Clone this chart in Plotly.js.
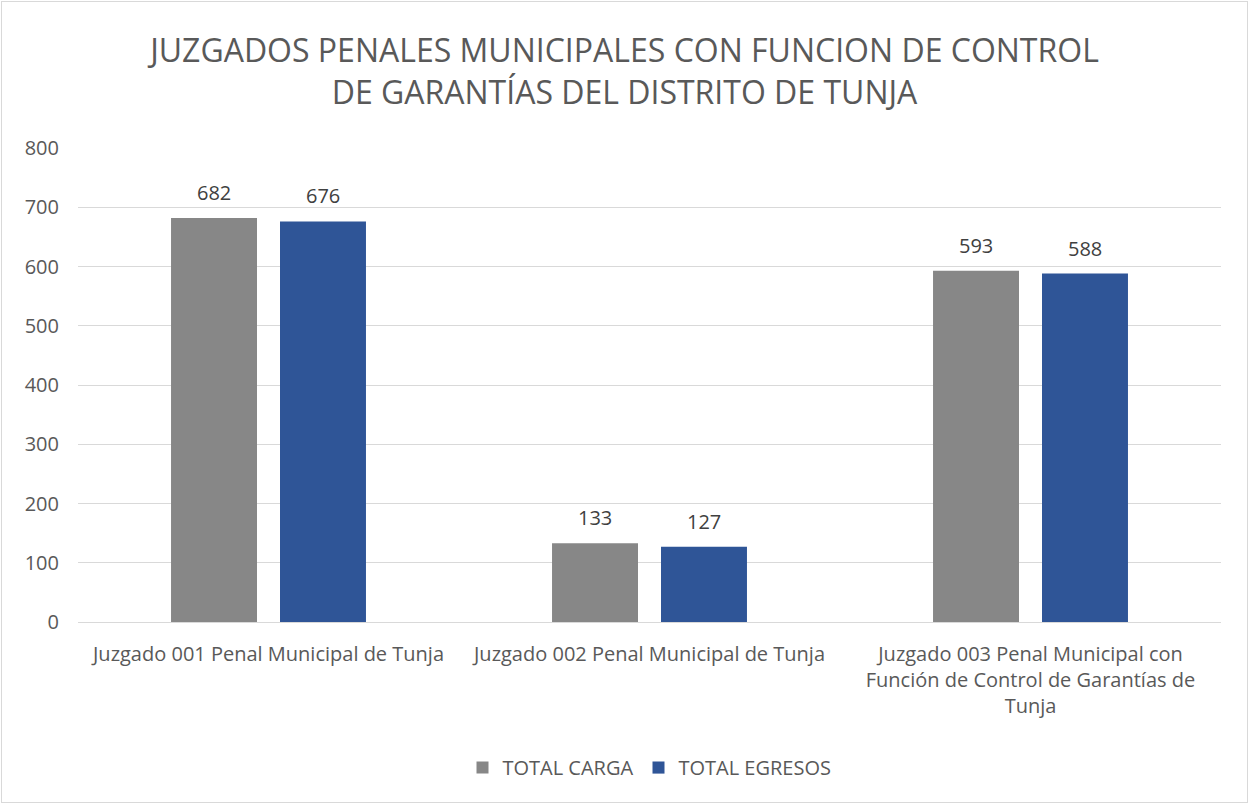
<!DOCTYPE html>
<html><head><meta charset="utf-8">
<script src="https://cdn.plot.ly/plotly-3.0.1.min.js"></script>
<style>
html,body{margin:0;padding:0;background:#fff;}
#chart{width:1245px;height:800px;border:1px solid #d9d9d9;margin:1px;}
</style></head>
<body><div id="chart"></div>
<script>
const categories = [
  "Juzgado 001 Penal Municipal de Tunja",
  "Juzgado 002 Penal Municipal de Tunja",
  "Juzgado 003 Penal Municipal con<br>Función de Control de Garantías de<br>Tunja"
];
const totalCarga = [682, 133, 593];
const totalEgresos = [676, 127, 588];
const seriesNames = ["TOTAL CARGA", "TOTAL EGRESOS"];

const font = "Open Sans, Liberation Sans, sans-serif";
const traces = [
  {type:"bar", x:categories, y:totalCarga, name:seriesNames[0], marker:{color:"#878787"}},
  {type:"bar", x:categories, y:totalEgresos, name:seriesNames[1], marker:{color:"#2F5597"}}
];
const annotations = [];
[totalCarga, totalEgresos].forEach((vals, si) => {
  vals.forEach((v, i) => {
    annotations.push({x:categories[i], y:v, xref:"x", yref:"y", text:String(v), showarrow:false,
      yanchor:"bottom", yshift:10, xshift:(si === 0 ? -54.5 : 54.5),
      font:{size:20, color:"#404040", family:font}});
  });
});
const layout = {
  width:1245, height:800,
  margin:{l:76, r:26, t:146, b:180},
  paper_bgcolor:"#fff", plot_bgcolor:"#fff",
  font:{family:font, color:"#595959"},
  title:{text:"JUZGADOS PENALES MUNICIPALES CON FUNCION DE CONTROL<br>DE GARANTÍAS DEL DISTRITO DE TUNJA",
    font:{size:32, color:"#595959", family:font}, x:0.5, xanchor:"center", yref:"container", y:0.925, yanchor:"top"},
  barmode:"group", bargap:0.428, bargroupgap:0.211,
  annotations: annotations,
  xaxis:{tickfont:{size:20,color:"#595959"}, showline:true, linecolor:"#d9d9d9", ticks:"outside", ticklen:14, tickcolor:"rgba(0,0,0,0)", showgrid:false},
  yaxis:{range:[0,800], dtick:100, tickfont:{size:20,color:"#595959"}, gridcolor:"#d9d9d9",
    zeroline:false, showline:false, ticks:"outside", ticklen:14, tickcolor:"rgba(0,0,0,0)"},
  legend:{orientation:"h", x:0.5, xanchor:"center", yref:"container", y:0.043, yanchor:"middle",
    font:{size:20,color:"#595959"}, itemwidth:30}
};
Plotly.newPlot("chart", traces, layout, {displayModeBar:false, staticPlot:true});
</script></body></html>
